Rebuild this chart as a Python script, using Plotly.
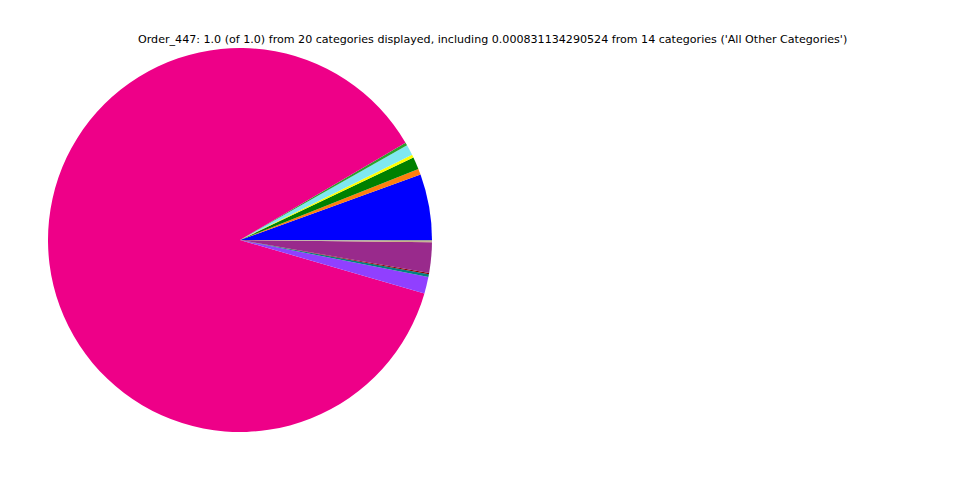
import plotly.graph_objects as go

labels = ["Cat A", "Cat B", "Cat C", "Cat D", "Cat E", "Cat F", "Cat G",
          "Cat H", "Cat I", "Cat J", "Cat K", "All Other Categories", "Cat L"]
values = [0.0553, 0.0050, 0.0103, 0.0025, 0.0089, 0.0025, 0.8700,
          0.0139, 0.0025, 0.0010, 0.0256, 0.00083, 0.0010]
colors = ["#0000FF", "#FF7F0E", "#008000", "#FFFF00", "#7FE8F0", "#2CA02C", "#EE0088",
          "#9040FF", "#008080", "#8B0000", "#992A8C", "#C8A878", "#A0A0A0"]

title = ("Order_447: 1.0 (of 1.0) from 20 categories displayed, including "
         "0.000831134290524 from 14 categories ('All Other Categories')")

# plotly offsets counterclockwise pies by the first slice; compensate so it starts at 3 o'clock
first_angle = 360 * values[0] / sum(values)

W, H, OFF = 960, 480, 8  # page body margin shifts the figure by 8 px

fig = go.Figure(go.Pie(
    labels=labels, values=values, sort=False, direction="counterclockwise",
    rotation=90 - first_angle, marker=dict(colors=colors, line=dict(width=0)),
    textinfo="none", hoverinfo="label+value", showlegend=False,
    domain=dict(x=[(48 - OFF) / W, (432 - OFF) / W],
                y=[(48 + OFF) / H, (432 + OFF) / H]),
))
fig.update_layout(
    width=W, height=H, margin=dict(l=0, r=0, t=0, b=0),
    paper_bgcolor="white", plot_bgcolor="white",
    annotations=[dict(text=title, x=(492 - OFF) / W, y=1 - (40 - OFF) / H,
                      xref="paper", yref="paper",
                      xanchor="center", yanchor="middle", showarrow=False,
                      font=dict(family="DejaVu Sans", size=11.1, color="black"))],
)
fig.write_html("out.html")
